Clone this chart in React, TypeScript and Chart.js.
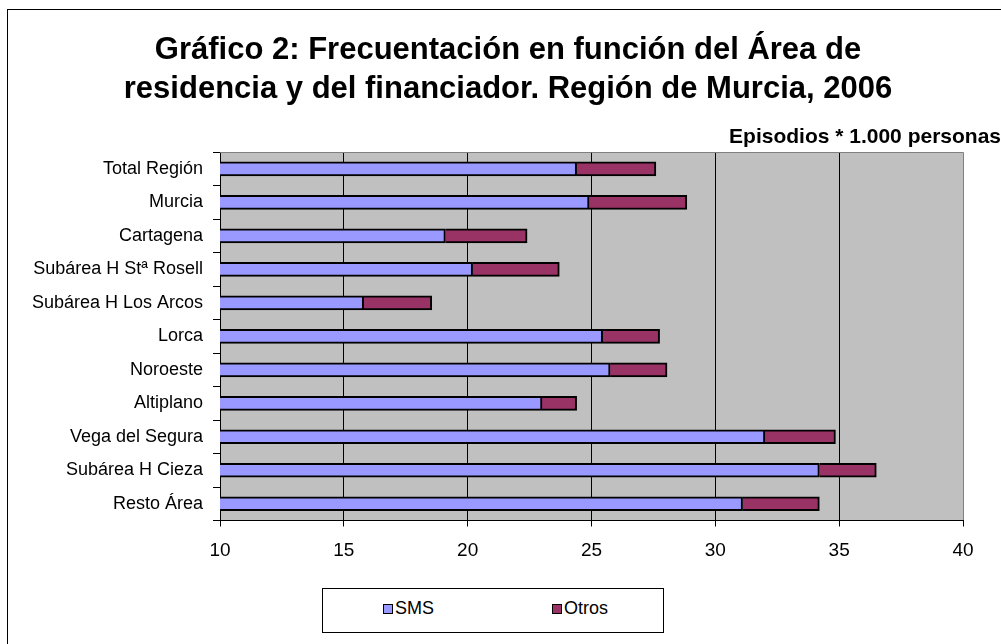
import React, { useEffect, useRef } from 'react';
import { Chart, registerables } from 'chart.js';

Chart.register(...registerables);

const categories = [
  'Total Región',
  'Murcia',
  'Cartagena',
  'Subárea H Stª Rosell',
  'Subárea H Los Arcos',
  'Lorca',
  'Noroeste',
  'Altiplano',
  'Vega del Segura',
  'Subárea H Cieza',
  'Resto Área',
];
const smsValues = [24.4, 24.9, 19.1, 20.2, 15.8, 25.45, 25.75, 23.0, 32.0, 34.2, 31.1];
const otrosValues = [3.2, 3.95, 3.3, 3.5, 2.75, 2.3, 2.3, 1.4, 2.85, 2.3, 3.1];
const seriesNames = ['SMS', 'Otros'];
const seriesColors = ['#9999FF', '#993366'];
const xMin = 10;
const xMax = 40;
const xStep = 5;
const titleLines = [
  'Gráfico 2: Frecuentación en función del Área de',
  'residencia y del financiador. Región de Murcia, 2006',
];
const unitLabel = 'Episodios * 1.000 personas';

const FONT = "'Liberation Sans', Arial, Helvetica, sans-serif";

const framePlugin = {
  id: 'plotFrame',
  beforeDraw(chart: any) {
    const { ctx, chartArea } = chart;
    const { left, top, right, bottom } = chartArea;
    ctx.save();
    ctx.fillStyle = '#C0C0C0';
    ctx.fillRect(left, top, right - left, bottom - top);
    ctx.restore();
  },
  afterDatasetsDraw(chart: any) {
    const { ctx, chartArea } = chart;
    const { left, top, right } = chartArea;
    ctx.save();
    ctx.strokeStyle = '#808080';
    ctx.lineWidth = 1;
    ctx.beginPath();
    const y = Math.round(top) + 0.5;
    ctx.moveTo(left, y);
    ctx.lineTo(right, y);
    ctx.stroke();
    ctx.restore();
  },
};

export default function App() {
  const canvasRef = useRef<HTMLCanvasElement | null>(null);

  useEffect(() => {
    if (!canvasRef.current) return;
    Chart.defaults.font.family = FONT;
    Chart.defaults.color = '#000';
    const chart = new Chart(canvasRef.current, {
      type: 'bar',
      data: {
        labels: categories,
        datasets: [
          {
            label: seriesNames[0],
            data: smsValues,
            backgroundColor: seriesColors[0],
            borderColor: '#000',
            borderWidth: 2,
            barThickness: 14,
          },
          {
            label: seriesNames[1],
            data: otrosValues,
            backgroundColor: seriesColors[1],
            borderColor: '#000',
            borderWidth: 2,
            barThickness: 14,
          },
        ],
      },
      options: {
        indexAxis: 'y',
        responsive: false,
        animation: false,
        layout: { padding: { top: 31, left: 15, right: 0, bottom: 0 } },
        plugins: {
          legend: { display: false },
          tooltip: { enabled: false },
          title: {
            display: true,
            text: titleLines,
            color: '#000',
            font: { size: 31, weight: 'bold', family: FONT, lineHeight: 1.258 },
            padding: { top: 0, bottom: 16 },
          },
          subtitle: {
            display: true,
            text: unitLabel,
            align: 'end',
            color: '#000',
            font: { size: 21, weight: 'bold', family: FONT, lineHeight: 1.2 },
            padding: { top: 0, bottom: 2 },
          },
        },
        scales: {
          x: {
            type: 'linear',
            stacked: true,
            min: xMin,
            max: xMax,
            ticks: {
              stepSize: xStep,
              padding: 13,
              color: '#000',
              font: { size: 19, family: FONT },
            },
            grid: {
              color: (c: any) => (c.tick && c.tick.value === xMax ? '#808080' : '#000'),
              tickColor: '#000',
              lineWidth: 1,
              tickLength: 6,
            },
            border: { display: true, color: '#000', width: 1 },
            afterFit: (s: any) => {
              s.height = 123.5;
            },
          },
          y: {
            type: 'category',
            stacked: true,
            ticks: {
              padding: 10,
              color: '#000',
              font: { size: 18, family: FONT },
            },
            grid: {
              drawOnChartArea: false,
              drawTicks: true,
              tickLength: 7,
              color: '#000',
              offset: true,
            },
            border: { display: true, color: '#000', width: 1 },
            afterFit: (s: any) => {
              s.width = 205;
            },
          },
          yRight: {
            type: 'linear',
            position: 'right',
            display: true,
            grid: { display: false, drawTicks: false },
            ticks: { display: false },
            border: { display: false },
            afterFit: (s: any) => {
              s.width = 38;
            },
          },
        },
      },
      plugins: [framePlugin],
    } as any);
    return () => chart.destroy();
  }, []);

  const legendText: React.CSSProperties = {
    position: 'absolute',
    top: 9,
    fontFamily: FONT,
    fontSize: 18,
    color: '#000',
    lineHeight: 'normal',
    whiteSpace: 'nowrap',
  };
  const legendSwatch = (color: string, left: number): React.CSSProperties => ({
    position: 'absolute',
    left,
    top: 15,
    width: 10,
    height: 10,
    boxSizing: 'border-box',
    border: '1px solid #000',
    background: color,
  });

  return (
    <div
      style={{
        position: 'fixed',
        left: 0,
        top: 0,
        width: 1001,
        height: 644,
        overflow: 'hidden',
        background: '#fff',
      }}
    >
      <div
        style={{
          position: 'absolute',
          left: 7,
          top: 9,
          width: 1100,
          height: 800,
          border: '1px solid #000',
        }}
      />
      <canvas
        ref={canvasRef}
        width={1001}
        height={644}
        style={{ position: 'absolute', left: 0, top: 0, width: 1001, height: 644 }}
      />
      <div
        style={{
          position: 'absolute',
          left: 322,
          top: 588,
          width: 342,
          height: 45,
          boxSizing: 'border-box',
          border: '1px solid #000',
          background: '#fff',
        }}
      >
        <div style={legendSwatch(seriesColors[0], 60)} />
        <span style={{ ...legendText, left: 72 }}>{seriesNames[0]}</span>
        <div style={legendSwatch(seriesColors[1], 229)} />
        <span style={{ ...legendText, left: 241 }}>{seriesNames[1]}</span>
      </div>
    </div>
  );
}
